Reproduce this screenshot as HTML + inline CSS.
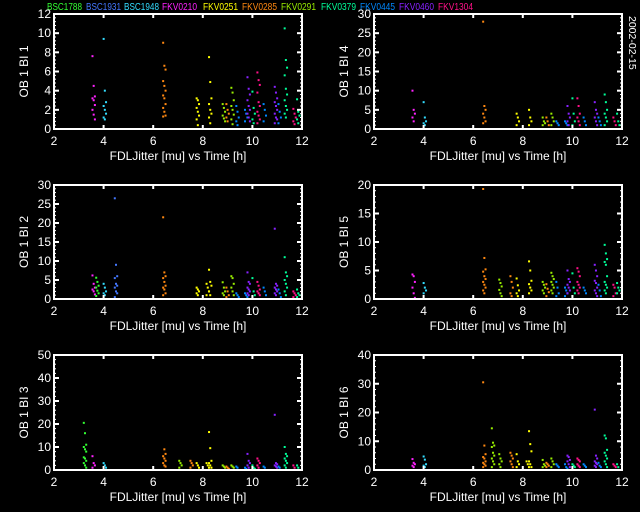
<!DOCTYPE html>
<html><head><meta charset="utf-8"><style>
html,body{margin:0;padding:0;background:#000;}
svg{display:block;font-family:"Liberation Sans",sans-serif;}
</style></head><body>
<svg id="c" width="640" height="512" xmlns="http://www.w3.org/2000/svg">
<rect width="640" height="512" fill="#000"/>
</svg>
<script>
const starNames=["BSC1788","BSC1931","BSC1948","FKV0210","FKV0251","FKV0285","FKV0291","FKV0379","FKV0445","FKV0460","FKV1304"];
const starColors=["#33ff33","#4477ff","#33ddff","#ff22ff","#ffff00","#ff8811","#99ee00","#00ff99","#0088ff","#8822ff","#ff1188"];
const legendX=[47,86,124,162,203,242,281,321,360,399,438];
const clusterTimes=[3.25,3.6,3.75,4.05,4.5,6.45,6.8,7.1,7.55,7.8,8.2,8.3,8.85,9.0,9.2,9.4,9.75,9.85,10.05,10.25,10.5,10.95,11.1,11.35,11.7,11.85];
const clusterStars=[0,3,0,2,1,5,6,6,5,4,4,4,6,5,6,8,8,9,7,10,8,9,8,7,10,7];
const xTicks=[2,4,6,8,10,12];
const panelTitles=["OB 1 BI 1","OB 1 BI 2","OB 1 BI 3","OB 1 BI 4","OB 1 BI 5","OB 1 BI 6"];
const panelYMax=[12,30,50,30,20,40];
const panelYStep=[2,5,10,5,5,10];
const p1=[[],[7.6,4.5,3.4,3.2,3.0,2.5,2.0,1.5,1.0],[],[9.4,4.0,2.8,2.4,2.0,1.6,1.2,1.0],[],[9.0,6.6,6.2,5.0,4.5,4.0,3.5,3.2,2.6,2.2,1.8,1.4,1.3],[],[],[],[3.2,3.0,2.6,2.2,1.8,1.4,1.0,0.4],[],[7.5,4.9,3.2,2.6,2.0,1.6,1.2,0.6],[2.6,2.2,1.8,1.4,1.1,0.8],[2.6,2.0,1.6,1.2,0.8],[4.3,3.8,3.0,2.4,2.0,1.5,1.0,0.5],[2.4,1.8,1.2,0.8,0.4],[2.0,1.6,1.2,0.8],[5.4,4.2,3.6,3.0,2.4,2.0,1.6,1.2,0.8],[3.9,2.2,1.6,1.0,0.6],[5.9,5.1,4.6,3.8,2.8,2.4,1.8,1.4,1.0,0.6],[2.6,2.0,1.4,0.8],[4.4,3.8,3.2,2.8,2.4,2.0,1.6,1.2,1.0,0.6],[2.6,1.8,1.2,0.6],[10.5,7.2,6.4,5.6,4.2,3.6,3.0,2.4,2.0,1.6,1.2],[2.1,1.6,1.2,0.8,0.5],[3.1,1.8,1.4,1.0,0.6]];
const p2=[[],[6.2,4,3,2.5,2,1.2],[5.6,4.5,3.5,3,2.2,1.5,0.8],[4,3,2,1.5,1],[26.5,9,6,5.5,4,3.5,3,2,1.5,0.5],[21.5,7,6,5.5,4.5,3.5,3,2.5,1.5,1],[],[],[],[3,2.5,2,1.5,1],[4,3,2,1],[7.7,4.5,3.5,2,1],[4.4,3,2,1.5,1],[3,2,1,0.5],[6,5.5,4,3,2,1],[1.5,1,0.5],[1.5,1,0.5],[7,4.5,4,3,2.5,2,1.5,1],[5.5,2,1,0.5],[4.5,3.5,2.5,2,1.5,1],[3,2,1],[18.5,4,3.5,3,2.5,2,1.5,1],[2.5,1.5,0.5],[11,7,6,5,4,3,2,1],[2,1.5,1,0.5],[2.5,1.5,1,0.5]];
const p3=[[20.5,16,11,10,9,8,5.5,5,4,3,2,1],[6,3,2,1],[],[3,2,1],[],[50,9,7,6,5,4,3,2,1.5],[],[4,3,2,1],[4,3,2,1],[3,2,1],[3,2,1],[16.5,9.5,4,3,2,1],[2,1.5,1],[1.5,1,0.5],[2,1.5,1],[1.5,1],[1,0.5],[7,4,3,2,1],[2,1,0.5],[5,4,3,2,1],[1.5,1],[24,3,2.5,2,1.5,1],[1.5,1],[10,7,6,5,4,3,2,1],[2,1],[2,1]];
const p4=[[],[10,5,4,3,2],[],[7,3,2,1.5,1],[],[28,6,5,4,3,2,1.5],[],[],[],[4,3,2,1],[],[5,3,2,1],[3,2,1.5,1],[3,2,1],[4,3,2,1],[2,1.5,1],[2,1.5,1],[6,4,3,2,1],[8,4,2,1],[8,6,4,3,2,1],[3,2,1],[7,5,4,3,2,1],[3,2,1],[9,7,5,4,3,2,1],[3,2,1],[4,2,1]];
const p5=[[],[4.3,4,3,2,1,0.2],[],[2.8,2,1.5,1],[],[19.3,7.2,5.2,4.8,4,3.5,3,2.5,2,1.5,1],[],[3.4,2.8,2.2,1.6,1,0.5],[4,3,2,1,0.5],[3.6,2.4,1.5,1,0.5],[],[6.6,5,3.2,2.6,2,1.5,1],[3,2.5,2,1.5,1],[2.6,1.8,1.2,0.5],[4.6,4,3.5,3,2.5,2,1.5,1],[3,2,1,0.5],[2,1.5,1,0.5],[5,3.5,3,2.5,2,1.5,1],[4.5,2,1,0.5],[5.4,4.8,4,3,2.5,2,1.5,1],[2,1.5,1],[6,5,4,3.2,2.8,2,1.5,1,0.5],[2.5,1.5,0.5],[9.5,8,7,6.5,6,4,3,2.5,2,1.5,1],[2.5,2,1,0.5],[2.8,2,1.5,1]];
const p6=[[],[3.8,2.5,2,1.5,1],[],[4.7,3.6,2,1.5,1],[],[30.5,8.5,5.5,4.5,4,3,2.5,2,1.5,1],[14.5,9.5,8.5,8,6,5,4,3,2,1],[5.5,4,3,2,1],[6,5,4,3,2,1],[5.5,3,2,1],[3,2,1],[13.5,9,6.5,3,2,1],[3.5,2,1.5,1],[2.5,2,1.5,1],[4,3,2,1],[2,1.5,1],[2,1,0.5],[5,4.5,3.5,3,2,1],[2,1.5,1],[4,3.5,3,2,1.5,1],[2,1.5,1],[21,5,4,3,2.5,2,1.5,1],[2.5,1.5,1],[12,11,7,6,5,4,3,2,1],[2,1.5,1],[2,1]];
const panelData=[p1,p2,p3,p4,p5,p6];

const NS="http://www.w3.org/2000/svg";
const svg=document.getElementById('c');
function mk(tag,attrs,parent){const e=document.createElementNS(NS,tag);for(const k in attrs)e.setAttribute(k,attrs[k]);(parent||svg).appendChild(e);return e;}

const lg=mk('g',{});


starNames.forEach((n,i)=>{
  const t=mk('text',{x:legendX[i],y:10,fill:starColors[i],'font-size':10,textLength:35,lengthAdjust:'spacingAndGlyphs'},lg);
  
  
  t.textContent=n;
});
const dt=mk('text',{x:0,y:0,fill:'#fff','font-size':10.5,transform:'translate(629,16) rotate(90)'});


dt.textContent='2002-02-15';

const lefts=[54,374],rights=[302,622],tops=[14,185,355],bottoms=[129,299,470];
for(let p=0;p<6;p++){
  const col=p<3?0:1,row=p%3;
  const X0=lefts[col],X1=rights[col],Y0=tops[row],Y1=bottoms[row];
  const ymax=panelYMax[p],ystep=panelYStep[p];
  const sx=v=>X0+(v-2)/(10)*(X1-X0);
  const sy=v=>Y1-v/ymax*(Y1-Y0);
  const g=mk('g',{});
  
  
  const pts=mk('g',{},g);
  
  
  panelData[p].forEach((vals,ci)=>{
    vals.forEach((v,k)=>{
      if(v>ymax)return;
      const off=(k%3)-1;
      const r=mk('rect',{x:sx(clusterTimes[ci])+off*1.2-1,y:sy(v)-1,width:2,height:2,fill:starColors[clusterStars[ci]]},pts);
      
      
    });
  });
  const box=mk('rect',{x:X0,y:Y0,width:X1-X0,height:Y1-Y0,fill:'none',stroke:'#fff','stroke-width':2},g);
  
  
  xTicks.forEach(t=>{
    const x=sx(t);
    mk('line',{x1:x,x2:x,y1:Y1,y2:Y1-4,stroke:'#fff','stroke-width':2},g);
    mk('line',{x1:x,x2:x,y1:Y0,y2:Y0+4,stroke:'#fff','stroke-width':2},g);
    const tl=mk('text',{x:x,y:Y1+16,fill:'#fff','font-size':12,'text-anchor':'middle'},g);
    
    
    tl.textContent=t;
  });
  for(let v=0;v<=ymax+1e-9;v+=ystep){
    const y=sy(v);
    mk('line',{x1:X0,x2:X0+5,y1:y,y2:y,stroke:'#fff','stroke-width':2},g);
    mk('line',{x1:X1,x2:X1-5,y1:y,y2:y,stroke:'#fff','stroke-width':2},g);
    const tl=mk('text',{x:X0-3,y:y+4,fill:'#fff','font-size':12,'text-anchor':'end'},g);
    
    
    tl.textContent=v;
  }
  for(let v=0;v<=ymax+1e-9;v+=ystep/5){
    const y=sy(v);
    mk('line',{x1:X0,x2:X0+2,y1:y,y2:y,stroke:'#fff','stroke-width':1},g);
    mk('line',{x1:X1,x2:X1-2,y1:y,y2:y,stroke:'#fff','stroke-width':1},g);
  }
  const xt=mk('text',{x:(X0+X1)/2,y:Y1+31,fill:'#fff','font-size':12,'text-anchor':'middle'},g);
  
  
  xt.textContent='FDLJitter [mu] vs Time [h]';
  const yx=X0-26,yy=(Y0+Y1)/2;
  const yt=mk('text',{x:0,y:0,fill:'#fff','font-size':12,'text-anchor':'middle',transform:`translate(${yx},${yy}) rotate(-90)`},g);
  
  
  yt.textContent=panelTitles[p];
}
</script>
</body></html>
